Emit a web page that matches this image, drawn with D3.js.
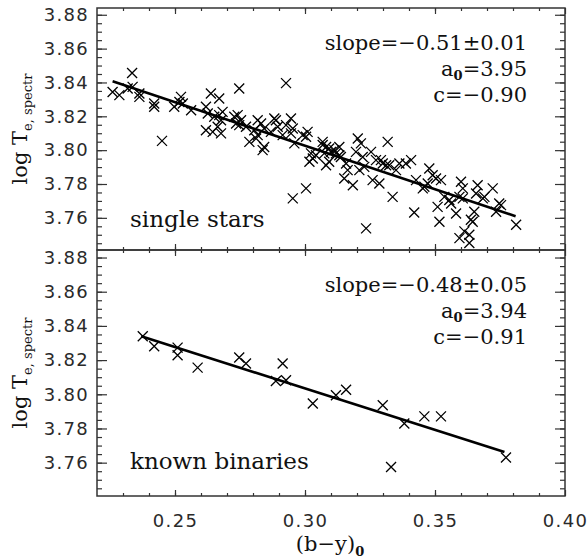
<!DOCTYPE html>
<html lang="en">
<head>
<meta charset="utf-8">
<title>log Te,spectr vs (b-y)0</title>
<script src="https://cdn.jsdelivr.net/npm/d3@7"></script>
<style>
  body { margin: 0; background: #fff; }
  .tick text { font-family: "DejaVu Sans", sans-serif; font-size: 18px; letter-spacing: 1.3px; fill: #2a2a2a; }
  .tick line { stroke: #333; stroke-width: 1.2; }
  .frame { fill: none; stroke: #333; stroke-width: 1.5; }
  .lbl { font-family: "DejaVu Serif", serif; fill: #111; }
</style>
</head>
<body>
<script>
// single stars (b-y)0 and log Te
var singleX = [0.2260,0.2286,0.2335,0.2318,0.2337,0.2363,0.2363,0.2420,0.2420,0.2450,
               0.2497,0.2517,0.2523,0.2530,0.2562,0.2619,0.2626,0.2619,0.2645,0.2638,
               0.2670,0.2651,0.2670,0.2683,0.2677,0.2677,0.2664,0.2747,0.2728,0.2741,
               0.2754,0.2735,0.2747,0.2786,0.2812,0.2818,0.2843,0.2837,0.2773,0.2818,
               0.2831,0.2805,0.2843,0.2882,0.2888,0.2895,0.2869,0.2914,0.2927,0.2927,
               0.2946,0.2953,0.2946,0.2959,0.2953,0.3004,0.2991,0.3010,0.3004,0.3023,
               0.3030,0.3042,0.3017,0.3068,0.3081,0.3093,0.3100,0.3113,0.3119,0.3132,
               0.3081,0.3093,0.3068,0.3074,0.3138,0.3151,0.3164,0.3184,0.3203,0.3215,
               0.3196,0.3222,0.3228,0.3235,0.3254,0.3260,0.3273,0.3286,0.3292,0.3299,
               0.3312,0.3324,0.3318,0.3337,0.3350,0.3363,0.3388,0.3408,0.3420,0.3427,
               0.3453,0.3472,0.3478,0.3491,0.3510,0.3523,0.3517,0.3536,0.3555,0.3562,
               0.3581,0.3600,0.3607,0.3594,0.3607,0.3651,0.3645,0.3664,0.3658,0.3684,
               0.3690,0.3722,0.3747,0.3754,0.3735,0.3613,0.3594,0.3632,0.3632,0.3638,
               0.3812,0.3132,0.3158,0.3209,0.3504,0.3459];
var singleY = [3.8344,3.8325,3.8456,3.8364,3.8374,3.8335,3.8315,3.8276,3.8256,3.8055,
               3.8256,3.8285,3.8315,3.8276,3.8236,3.8256,3.8217,3.8118,3.8108,3.8335,
               3.8305,3.8197,3.8207,3.8226,3.8177,3.8099,3.8138,3.8364,3.8197,3.8207,
               3.8177,3.8158,3.8148,3.8049,3.8069,3.8089,3.8019,3.8000,3.8138,3.8177,
               3.8158,3.8118,3.8128,3.8187,3.8177,3.8138,3.8108,3.8089,3.8396,3.8148,
               3.8187,3.8128,3.8099,3.8040,3.7715,3.7774,3.8089,3.8108,3.8079,3.7981,
               3.7951,3.7970,3.7931,3.8030,3.8019,3.8010,3.7990,3.8000,3.7981,3.7970,
               3.7911,3.7931,3.8049,3.7981,3.7960,3.7833,3.7882,3.7793,3.8069,3.8040,
               3.7990,3.7960,3.7901,3.7538,3.7990,3.7823,3.7941,3.7803,3.7941,3.7921,
               3.7911,3.7911,3.8049,3.7724,3.7882,3.7921,3.7921,3.7941,3.7632,3.7823,
               3.7774,3.7803,3.7892,3.7852,3.7665,3.7823,3.7577,3.7724,3.7705,3.7685,
               3.7626,3.7813,3.7774,3.7724,3.7715,3.7636,3.7577,3.7793,3.7744,3.7715,
               3.7724,3.7774,3.7685,3.7675,3.7636,3.7520,3.7480,3.7500,3.7451,3.7589,
               3.7559,3.8019,3.7921,3.7882,3.7833,3.7784];
// known binaries
var binX = [0.2376,0.2420,0.2510,0.2510,0.2587,0.2747,0.2773,0.2914,0.2888,0.2927,
            0.3030,0.3119,0.3158,0.3299,0.3331,0.3382,0.3459,0.3523,0.3773];
var binY = [3.8339,3.8281,3.8273,3.8228,3.8156,3.8215,3.8180,3.8180,3.8078,3.8082,
            3.7946,3.7994,3.8027,3.7936,3.7575,3.7829,3.7871,3.7871,3.7630];
// fitted lines (end points)
var fitSingleX = [0.226, 0.381], fitSingleY = [3.8407, 3.7610];
var fitBinX = [0.237, 0.3767],  fitBinY = [3.8339, 3.7663];

var panelNotes = [
  {label: "single stars",   slope: "\u22120.51\u00b10.01", a0: "3.95", c: "\u22120.90"},
  {label: "known binaries", slope: "\u22120.48\u00b10.05", a0: "3.94", c: "\u22120.91"}
];
var xTicks = [0.25, 0.30, 0.35, 0.40];
var yTicks = [3.76, 3.78, 3.80, 3.82, 3.84, 3.86, 3.88];

var w = 588, h = 558;
var xL = 97, xR = 565;

var svg = d3.select("body").append("svg").attr("width", w).attr("height", h);

var xScale = d3.scaleLinear().domain([0.22, 0.40]).range([xL, xR]);
var xMinor = d3.range(23, 40).map(function(v) { return v / 100; });
var yMinor = d3.range(749, 777).map(function(v) { return v / 200; });

var panels = [
  {top: 8,   bot: 250, dom: [3.741, 3.884],   xs: singleX, ys: singleY, fx: fitSingleX, fy: fitSingleY, note: panelNotes[0], xlab: false},
  {top: 250, bot: 496, dom: [3.7405, 3.8844], xs: binX,    ys: binY,    fx: fitBinX,    fy: fitBinY,    note: panelNotes[1], xlab: true}
];

var cross = function(s) { return "M" + (-s) + "," + (-s) + "L" + s + "," + s + "M" + (-s) + "," + s + "L" + s + "," + (-s); };

panels.forEach(function(p) {
  var yScale = d3.scaleLinear().domain(p.dom).range([p.bot, p.top]);
  var g = svg.append("g");

  // axes: major + minor ticks on all four sides, pointing inwards
  var yMin = yMinor.filter(function(v) { return v > p.dom[0] && v < p.dom[1]; });
  g.append("g").attr("transform", "translate(" + xL + ",0)")
    .call(d3.axisLeft(yScale).tickValues(yTicks).tickFormat(d3.format(".2f")).tickSize(-10).tickPadding(8));
  g.append("g").attr("transform", "translate(" + xL + ",0)")
    .call(d3.axisLeft(yScale).tickValues(yMin).tickFormat("").tickSize(-5));
  g.append("g").attr("transform", "translate(" + xR + ",0)")
    .call(d3.axisRight(yScale).tickValues(yTicks).tickFormat("").tickSize(-10));
  g.append("g").attr("transform", "translate(" + xR + ",0)")
    .call(d3.axisRight(yScale).tickValues(yMin).tickFormat("").tickSize(-5));

  g.append("g").attr("transform", "translate(0," + p.bot + ")")
    .call(d3.axisBottom(xScale).tickValues(xTicks).tickFormat(p.xlab ? d3.format(".2f") : "").tickSize(-6).tickPadding(18));
  g.append("g").attr("transform", "translate(0," + p.bot + ")")
    .call(d3.axisBottom(xScale).tickValues(xMinor).tickFormat("").tickSize(-3));
  g.append("g").attr("transform", "translate(0," + p.top + ")")
    .call(d3.axisTop(xScale).tickValues(xTicks).tickFormat("").tickSize(-6));
  g.append("g").attr("transform", "translate(0," + p.top + ")")
    .call(d3.axisTop(xScale).tickValues(xMinor).tickFormat("").tickSize(-3));

  g.selectAll(".domain").remove();
  g.append("rect").attr("class", "frame")
    .attr("x", xL).attr("y", p.top).attr("width", xR - xL).attr("height", p.bot - p.top);

  // points
  g.selectAll("path.pt").data(p.xs).enter().append("path")
    .attr("class", "pt")
    .attr("transform", function(d, i) { return "translate(" + xScale(d) + "," + yScale(p.ys[i]) + ")"; })
    .attr("d", cross(5))
    .attr("stroke", "#000").attr("stroke-width", 1.3).attr("fill", "none");

  // fit line
  var line = d3.line().x(function(d) { return xScale(d[0]); }).y(function(d) { return yScale(d[1]); });
  g.append("path").datum(d3.zip(p.fx, p.fy))
    .attr("d", line).attr("stroke", "#000").attr("stroke-width", 2.6).attr("fill", "none");

  // annotations
  var ax = 527;
  g.append("text").attr("class", "lbl").attr("x", ax).attr("y", p.top + 42)
    .attr("text-anchor", "end").attr("font-size", 21).text("slope=" + p.note.slope);
  var t2 = g.append("text").attr("class", "lbl").attr("x", ax).attr("y", p.top + 68)
    .attr("text-anchor", "end").attr("font-size", 21);
  t2.append("tspan").text("a");
  t2.append("tspan").attr("dy", 4).attr("font-size", 13).attr("font-weight", "bold").text("0");
  t2.append("tspan").attr("dy", -4).text("=" + p.note.a0);
  g.append("text").attr("class", "lbl").attr("x", ax).attr("y", p.top + 94)
    .attr("text-anchor", "end").attr("font-size", 21).text("c=" + p.note.c);

  g.append("text").attr("class", "lbl").attr("x", 130).attr("y", p.top + 219)
    .attr("font-size", 23).text(p.note.label);

  // y label
  var yl = g.append("text").attr("class", "lbl")
    .attr("transform", "translate(27," + ((p.top + p.bot) / 2) + ") rotate(-90)")
    .attr("text-anchor", "middle").attr("font-size", 21);
  yl.append("tspan").text("log T");
  yl.append("tspan").attr("dy", 5).attr("font-size", 13).text("e, spectr");
});

// x label
var xl = svg.append("text").attr("class", "lbl").attr("x", 330).attr("y", 551)
  .attr("text-anchor", "middle").attr("font-size", 21);
xl.append("tspan").text("(b\u2212y)");
xl.append("tspan").attr("dy", 5).attr("font-size", 13).attr("font-weight", "bold").text("0");
</script>
</body>
</html>
